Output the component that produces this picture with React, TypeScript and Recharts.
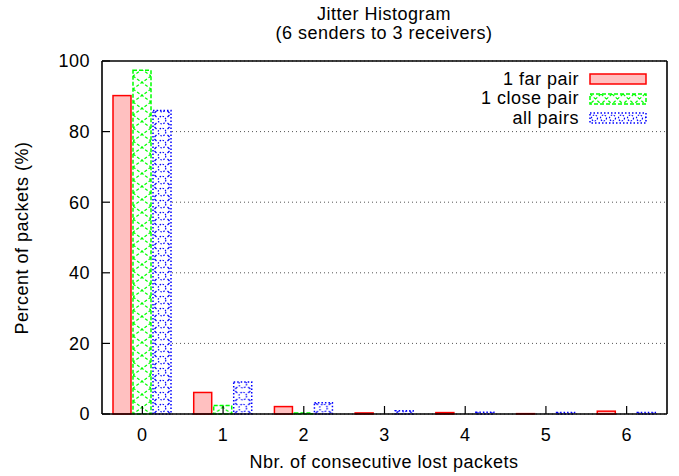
import { BarChart, Bar, XAxis, YAxis, CartesianGrid } from "recharts";

const categories = ["0", "1", "2", "3", "4", "5", "6"];
const farPair = [90.2, 6.1, 2.1, 0.3, 0.4, 0.1, 0.8];
const closePair = [97.4, 2.4, 0.3, 0, 0, 0, 0];
const allPairs = [86.0, 9.1, 3.2, 0.9, 0.5, 0.4, 0.4];
const yTicks = [0, 20, 40, 60, 80, 100];

const data = categories.map((cat, i) => ({
  cat,
  far: farPair[i],
  close: closePair[i],
  all: allPairs[i],
}));

const FONT = "'Liberation Sans', Arial, sans-serif";
const FS = 18;
const LS = 0.5;
const RED = "#ff0000";
const GREEN = "#00ff00";
const BLUE = "#0000ff";

const FarShape = (props: any) => {
  const { x, y, width, height } = props;
  if (!(height > 0)) return null;
  return (
    <rect x={x} y={y} width={width} height={height} fill="#ffc0c0" stroke={RED} strokeWidth={1.5} />
  );
};

const CloseShape = (props: any) => {
  const { x, y, width, height, index } = props;
  if (!(height > 0)) return null;
  const id = `close-pat-${index}`;
  return (
    <g>
      <defs>
        <pattern id={id} patternUnits="userSpaceOnUse" x={x} y={y + height} width={width} height={13}>
          <path
            d={`M0,0 L${width},13 M${width},0 L0,13`}
            stroke={GREEN}
            strokeWidth={1.2}
            strokeDasharray="3 2"
            fill="none"
          />
        </pattern>
      </defs>
      <rect
        x={x}
        y={y}
        width={width}
        height={height}
        fill={`url(#${id})`}
        stroke={GREEN}
        strokeWidth={1.5}
        strokeDasharray="4 2"
      />
    </g>
  );
};

const AllShape = (props: any) => {
  const { x, y, width, height, index } = props;
  if (!(height > 0)) return null;
  const id = `all-pat-${index}`;
  const w = width;
  return (
    <g>
      <defs>
        <pattern id={id} patternUnits="userSpaceOnUse" x={x} y={y + height} width={w} height={12}>
          <circle cx={w / 2} cy={6} r={3.8} stroke={BLUE} strokeWidth={1.2} strokeDasharray="1.5 1.5" fill="none" />
          <path
            d={`M1.5,1 L3.5,3 M${w - 1.5},1 L${w - 3.5},3 M1.5,11 L3.5,9 M${w - 1.5},11 L${w - 3.5},9`}
            stroke={BLUE}
            strokeWidth={1.2}
            fill="none"
          />
        </pattern>
      </defs>
      <rect
        x={x}
        y={y}
        width={width}
        height={height}
        fill={`url(#${id})`}
        stroke={BLUE}
        strokeWidth={1.5}
        strokeDasharray="1.5 2"
      />
    </g>
  );
};

const series = [
  { key: "far", name: "1 far pair", shape: FarShape },
  { key: "close", name: "1 close pair", shape: CloseShape },
  { key: "all", name: "all pairs", shape: AllShape },
];

// gnuplot leaves the grid hidden behind the first group of boxes
const GridLine = (props: any) => {
  const { x1, x2, y1, y2 } = props;
  return <line x1={x1 + 70} x2={x2} y1={y1} y2={y2} stroke="#555" strokeDasharray="1 3" strokeWidth={1} />;
};

const Swatch = ({ k }: { k: string }) => {
  const w = 56;
  const h = 10;
  return (
    <svg width={w + 2} height={h + 2} style={{ display: "block" }}>
      <defs>
        <pattern id="sw-close" patternUnits="userSpaceOnUse" x={1} y={1} width={11} height={h}>
          <path d={`M0,0 L11,${h} M11,0 L0,${h}`} stroke={GREEN} strokeWidth={1.2} strokeDasharray="3 2" fill="none" />
        </pattern>
        <pattern id="sw-all" patternUnits="userSpaceOnUse" x={1} y={1} width={9} height={h}>
          <circle cx={4.5} cy={h / 2} r={3} stroke={BLUE} strokeWidth={1.2} strokeDasharray="1.5 1.5" fill="none" />
        </pattern>
      </defs>
      {k === "far" && <rect x={1} y={1} width={w} height={h} fill="#ffc0c0" stroke={RED} strokeWidth={1.5} />}
      {k === "close" && (
        <rect x={1} y={1} width={w} height={h} fill="url(#sw-close)" stroke={GREEN} strokeWidth={1.5} strokeDasharray="4 2" />
      )}
      {k === "all" && (
        <rect x={1} y={1} width={w} height={h} fill="url(#sw-all)" stroke={BLUE} strokeWidth={1.5} strokeDasharray="1.5 2" />
      )}
    </svg>
  );
};

const tickStyle = { fill: "#000", fontSize: FS, fontFamily: FONT, letterSpacing: LS };

export default function App() {
  return (
    <div
      style={{
        position: "absolute",
        left: 0,
        top: 0,
        width: 679,
        height: 476,
        background: "#fff",
        fontFamily: FONT,
        fontSize: FS,
        letterSpacing: LS,
        color: "#000",
      }}
    >
      <BarChart
        width={679}
        height={476}
        data={data}
        margin={{ top: 60, right: 11, bottom: 32, left: 42 }}
        barSize={18}
        barGap={2}
      >
        <CartesianGrid vertical={false} horizontal={GridLine} />
        <XAxis
          dataKey="cat"
          height={30}
          tickSize={-8}
          tickMargin={22}
          tick={tickStyle}
          axisLine={{ stroke: "#000", strokeWidth: 1.6 }}
          tickLine={{ stroke: "#000", strokeWidth: 1.2 }}
        />
        <XAxis
          xAxisId="top"
          orientation="top"
          dataKey="cat"
          height={1}
          tick={false}
          tickSize={-8}
          axisLine={{ stroke: "#000", strokeWidth: 1.6 }}
          tickLine={{ stroke: "#000", strokeWidth: 1.2 }}
        />
        <YAxis
          width={60}
          domain={[0, 100]}
          ticks={yTicks}
          tickSize={-8}
          tickMargin={20}
          tick={tickStyle}
          axisLine={{ stroke: "#000", strokeWidth: 1.6 }}
          tickLine={{ stroke: "#000", strokeWidth: 1.2 }}
        />
        <YAxis
          yAxisId="right"
          orientation="right"
          width={1}
          domain={[0, 100]}
          ticks={yTicks}
          tick={false}
          tickSize={-8}
          axisLine={{ stroke: "#000", strokeWidth: 1.6 }}
          tickLine={{ stroke: "#000", strokeWidth: 1.2 }}
        />
        {series.map((s) => (
          <Bar key={s.key} dataKey={s.key} name={s.name} shape={s.shape} isAnimationActive={false} />
        ))}
      </BarChart>

      <div
        style={{
          position: "absolute",
          left: 134,
          width: 500,
          top: 5,
          textAlign: "center",
          lineHeight: "19px",
        }}
      >
        <div>Jitter Histogram</div>
        <div>(6 senders to 3 receivers)</div>
      </div>

      <div
        style={{
          position: "absolute",
          left: 22,
          top: 237.5,
          lineHeight: "20px",
          whiteSpace: "nowrap",
          transform: "translate(-50%, -50%) rotate(-90deg)",
        }}
      >
        Percent of packets (%)
      </div>

      <div
        style={{
          position: "absolute",
          left: 134,
          width: 500,
          top: 451,
          textAlign: "center",
          lineHeight: "22px",
        }}
      >
        Nbr. of consecutive lost packets
      </div>

      <div style={{ position: "absolute", left: 380, top: 69.5, width: 267 }}>
        {series.map((s) => (
          <div
            key={s.key}
            style={{ display: "flex", alignItems: "center", justifyContent: "flex-end", height: 19.5 }}
          >
            <span style={{ marginRight: 10, lineHeight: "19.5px" }}>{s.name}</span>
            <Swatch k={s.key} />
          </div>
        ))}
      </div>
    </div>
  );
}
